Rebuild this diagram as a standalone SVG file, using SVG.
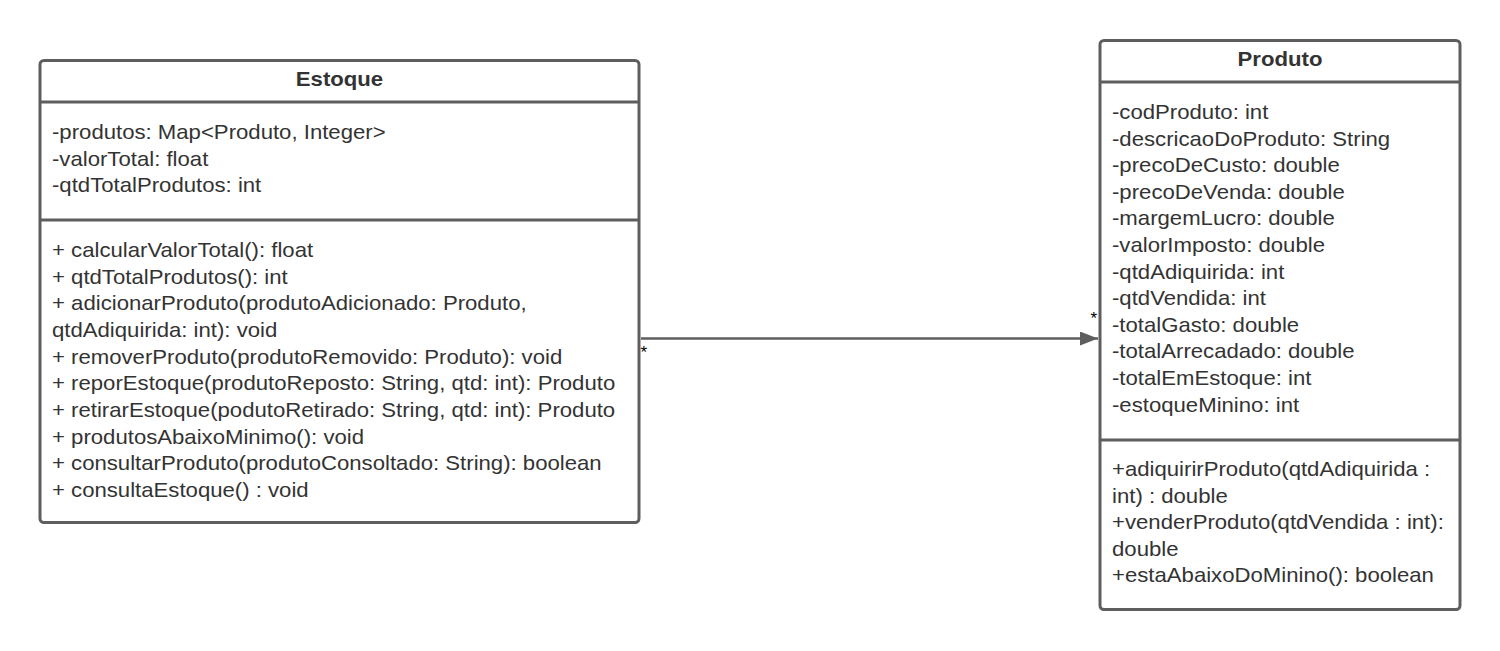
<svg xmlns="http://www.w3.org/2000/svg" width="1500" height="651" viewBox="0 0 1500 651">
<style>
.box{fill:#ffffff;stroke:#5e5e5e;stroke-width:3}
.div{stroke:#5e5e5e;stroke-width:3}
.t{font-family:"Liberation Sans",Arial,sans-serif;font-size:20px;fill:#333333}
.h{font-family:"Liberation Sans",Arial,sans-serif;font-size:20px;font-weight:bold;fill:#333333}
.m{font-family:"Liberation Sans",Arial,sans-serif;font-size:17px;fill:#000000}
</style>
<defs>
<marker id="arr" markerWidth="20" markerHeight="14" refX="18" refY="7" orient="auto" markerUnits="userSpaceOnUse">
<path d="M0,0 L18,7 L0,14 Z" fill="#5e5e5e"/>
</marker>
</defs>
<rect width="1500" height="651" fill="#ffffff"/>
<g id="connectors">
<line x1="641" y1="338.5" x2="1098" y2="338.5" stroke="#5e5e5e" stroke-width="2.5" marker-end="url(#arr)"/>
<text class="m" x="640.5" y="358">*</text>
<text class="m" x="1090.5" y="324">*</text>
</g>
<g id="estoque">
<rect class="box" x="40" y="60.5" width="599" height="462" rx="4"/>
<line class="div" x1="40" y1="102" x2="639" y2="102"/>
<line class="div" x1="40" y1="220" x2="639" y2="220"/>
<text class="h" transform="translate(339.5,86) scale(1.108,1)" text-anchor="middle">Estoque</text>
<g transform="translate(52,0) scale(1.108,1)">
<text class="t" x="0" y="139">-produtos: Map&lt;Produto, Integer&gt;</text>
<text class="t" x="0" y="165.6">-valorTotal: float</text>
<text class="t" x="0" y="192.2">-qtdTotalProdutos: int</text>
<text class="t" x="0" y="257">+ calcularValorTotal(): float</text>
<text class="t" x="0" y="283.7">+ qtdTotalProdutos(): int</text>
<text class="t" x="0" y="310.3">+ adicionarProduto(produtoAdicionado: Produto,</text>
<text class="t" x="0" y="337">qtdAdiquirida: int): void</text>
<text class="t" x="0" y="363.7">+ removerProduto(produtoRemovido: Produto): void</text>
<text class="t" x="0" y="390.3">+ reporEstoque(produtoReposto: String, qtd: int): Produto</text>
<text class="t" x="0" y="417">+ retirarEstoque(podutoRetirado: String, qtd: int): Produto</text>
<text class="t" x="0" y="443.7">+ produtosAbaixoMinimo(): void</text>
<text class="t" x="0" y="470.3">+ consultarProduto(produtoConsoltado: String): boolean</text>
<text class="t" x="0" y="497">+ consultaEstoque() : void</text>
</g>
</g>
<g id="produto">
<rect class="box" x="1100" y="40.5" width="360" height="569" rx="4"/>
<line class="div" x1="1100" y1="82" x2="1460" y2="82"/>
<line class="div" x1="1100" y1="440" x2="1460" y2="440"/>
<text class="h" transform="translate(1280,65.5) scale(1.108,1)" text-anchor="middle">Produto</text>
<g transform="translate(1112,0) scale(1.108,1)">
<text class="t" x="0" y="119">-codProduto: int</text>
<text class="t" x="0" y="145.6">-descricaoDoProduto: String</text>
<text class="t" x="0" y="172.2">-precoDeCusto: double</text>
<text class="t" x="0" y="198.8">-precoDeVenda: double</text>
<text class="t" x="0" y="225.4">-margemLucro: double</text>
<text class="t" x="0" y="252">-valorImposto: double</text>
<text class="t" x="0" y="278.6">-qtdAdiquirida: int</text>
<text class="t" x="0" y="305.2">-qtdVendida: int</text>
<text class="t" x="0" y="331.8">-totalGasto: double</text>
<text class="t" x="0" y="358.4">-totalArrecadado: double</text>
<text class="t" x="0" y="385">-totalEmEstoque: int</text>
<text class="t" x="0" y="411.6">-estoqueMinino: int</text>
<text class="t" x="0" y="476">+adiquirirProduto(qtdAdiquirida :</text>
<text class="t" x="0" y="502.6">int) : double</text>
<text class="t" x="0" y="529.2">+venderProduto(qtdVendida : int):</text>
<text class="t" x="0" y="555.8">double</text>
<text class="t" x="0" y="582.4">+estaAbaixoDoMinino(): boolean</text>
</g>
</g>
</svg>
